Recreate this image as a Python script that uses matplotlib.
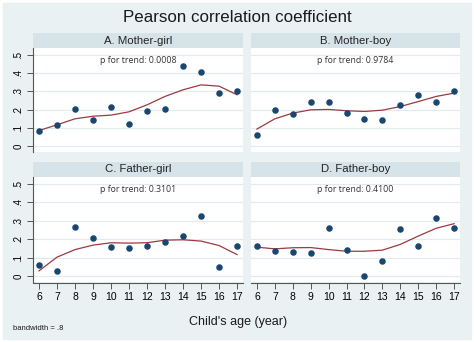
import matplotlib.pyplot as plt
from matplotlib.patches import Rectangle

# data
ages = [6, 7, 8, 9, 10, 11, 12, 13, 14, 15, 16, 17]

mg_pts = [0.082, 0.116, 0.207, 0.145, 0.213, 0.120, 0.196, 0.202, 0.440, 0.407, 0.293, 0.300]
mg_fit = [0.087, 0.118, 0.151, 0.165, 0.171, 0.189, 0.227, 0.273, 0.309, 0.336, 0.329, 0.282]

mb_pts = [0.064, 0.200, 0.175, 0.245, 0.242, 0.180, 0.149, 0.145, 0.227, 0.280, 0.244, 0.304]
mb_fit = [0.095, 0.151, 0.182, 0.200, 0.202, 0.195, 0.191, 0.198, 0.218, 0.245, 0.273, 0.291]

fg_pts = [0.060, 0.030, 0.267, 0.209, 0.160, 0.156, 0.167, 0.184, 0.218, 0.327, 0.051, 0.167]
fg_fit = [0.030, 0.104, 0.145, 0.169, 0.182, 0.180, 0.182, 0.196, 0.198, 0.191, 0.167, 0.118]

fb_pts = [0.162, 0.138, 0.133, 0.124, 0.264, 0.145, 0.000, 0.082, 0.258, 0.162, 0.315, 0.264]
fb_fit = [0.158, 0.149, 0.155, 0.156, 0.145, 0.136, 0.136, 0.142, 0.173, 0.218, 0.260, 0.285]

panel_titles = ["A. Mother-girl", "B. Mother-boy", "C. Father-girl", "D. Father-boy"]
p_values = ["0.0008", "0.9784", "0.3101", "0.4100"]
y_ticks = [0, 0.1, 0.2, 0.3, 0.4, 0.5]
y_labels = ["0", ".1", ".2", ".3", ".4", ".5"]

W, H = 474, 342
BG = "#E9F1F3"
STRIP = "#D6E3E8"
NAVY = "#1A476F"
MAROON = "#9A3A42"

fig = plt.figure(figsize=(W / 100, H / 100), dpi=100)
fig.patch.set_facecolor("white")
fig.patches.append(Rectangle((3 / W, 3 / H), 1 - 6 / W, 1 - 6 / H,
                             transform=fig.transFigure, color=BG, zorder=-10))


def px_axes(x0, y0, x1, y1):
    # pixel box (top-left origin) -> figure axes
    return fig.add_axes([x0 / W, 1 - y1 / H, (x1 - x0) / W, (y1 - y0) / H])


cols = [(33, 243), (251, 460)]
rows = [(33, 48, 152), (162, 177, 282)]
series = [(mg_pts, mg_fit), (mb_pts, mb_fit), (fg_pts, fg_fit), (fb_pts, fb_fit)]

for i in range(4):
    r, c = divmod(i, 2)
    x0, x1 = cols[c]
    st, top, bot = rows[r]

    # strip header
    sax = px_axes(x0, st, x1, top)
    sax.set_facecolor(STRIP)
    sax.set_xticks([])
    sax.set_yticks([])
    for s in sax.spines.values():
        s.set_visible(False)
    sax.text(0.5, 0.5, panel_titles[i], ha="center", va="center",
             fontsize=8.2, color="#222222", family="Liberation Sans")

    ax = px_axes(x0, top, x1, bot)
    ax.set_facecolor("white")
    pts, fit = series[i]
    ax.plot(ages, fit, color=MAROON, lw=0.9, zorder=2)
    ax.scatter(ages, pts, s=22, color=NAVY, zorder=3, linewidths=0)
    ax.set_xlim(5.67, 17.33)
    ax.set_ylim(-0.03, 0.537)
    ax.set_yticks(y_ticks)
    ax.set_xticks(ages)
    ax.grid(axis="y", color="#E1EAEE", lw=0.8, zorder=0)
    ax.set_axisbelow(True)
    for s in ax.spines.values():
        s.set_visible(False)
    ax.text(0.5, 0.88, "p for trend: " + p_values[i], transform=ax.transAxes,
            ha="center", va="center", fontsize=6.3, color="#333333", family="Open Sans")

    if c == 0:
        ax.spines["left"].set_visible(True)
        ax.spines["left"].set_color("#555555")
        ax.spines["left"].set_linewidth(0.8)
        ax.set_yticklabels(y_labels, rotation=90, va="center", fontsize=7,
                           family="Liberation Sans")
        ax.tick_params(axis="y", length=4, width=0.7, color="#555555", pad=3)
    else:
        ax.tick_params(axis="y", length=0, labelleft=False)

    if r == 1:
        ax.spines["bottom"].set_visible(True)
        ax.spines["bottom"].set_color("#555555")
        ax.spines["bottom"].set_linewidth(0.8)
        ax.spines["bottom"].set_position(("outward", 1))
        ax.tick_params(axis="x", length=4, width=0.7, color="#555555", labelsize=7.5, pad=2)
        for t in ax.get_xticklabels():
            t.set_family("Liberation Sans")
    else:
        ax.tick_params(axis="x", length=0, labelbottom=False)

fig.text(0.5, 1 - 17 / H, "Pearson correlation coefficient", ha="center", va="center",
         fontsize=12.2, color="#1a1a1a", family="Liberation Sans")
fig.text(238 / W, 1 - 322 / H, "Child's age (year)", ha="center", va="center",
         fontsize=9, color="#1a1a1a", family="Liberation Sans")
fig.text(13 / W, 1 - 328 / H, "bandwidth = .8", ha="left", va="center",
         fontsize=5.5, color="#1a1a1a", family="Liberation Sans")

fig.savefig("out.png", dpi=100, facecolor=fig.get_facecolor())
